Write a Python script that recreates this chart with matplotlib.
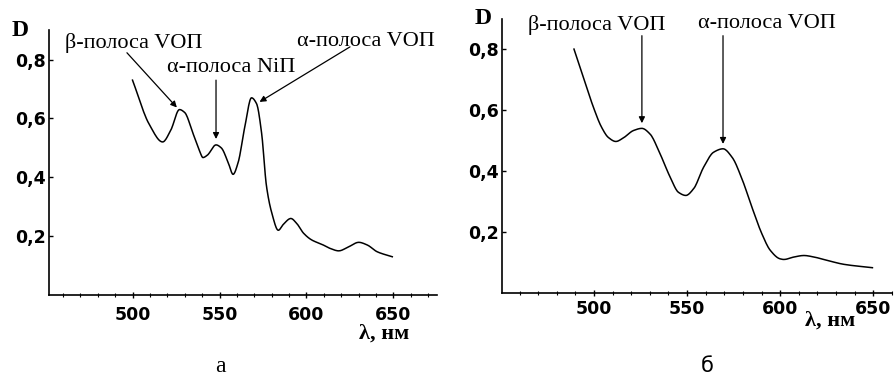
import matplotlib
matplotlib.use("Agg")
import matplotlib.pyplot as plt
import numpy as np
from matplotlib.ticker import MultipleLocator, FixedLocator

# Panel a data
wl_a = [500, 509.6, 517.3, 522, 527, 530, 534.7, 538.5, 540.5, 543, 548, 551, 555,
        557.8, 560.7, 564.5, 568.4, 571.3, 574.2, 577, 580, 583.8, 586.7, 591, 594.4,
        598.3, 603, 608.9, 613.7, 618.5, 624.3, 630, 634.9, 640.6, 649.3]
d_a = [0.73, 0.58, 0.52, 0.56, 0.63, 0.62, 0.55, 0.49, 0.467, 0.475, 0.51, 0.50, 0.45,
       0.41, 0.45, 0.57, 0.67, 0.65, 0.55, 0.37, 0.28, 0.22, 0.24, 0.26, 0.243,
       0.21, 0.187, 0.172, 0.158, 0.15, 0.164, 0.179, 0.17, 0.147, 0.13]

# Panel б data
wl_b = [489.2, 494.3, 499.6, 504, 507.7, 511.7, 515.8, 521.2, 525.7, 530, 535.5, 540.9,
        545.4, 549.3, 553.5, 558.9, 564.3, 569.3, 574.2, 579.5, 584.8, 590.2, 594.7,
        600, 602, 607.4, 612.8, 618.2, 625.3, 634.3, 649.6]
d_b = [0.80, 0.707, 0.61, 0.544, 0.51, 0.497, 0.509, 0.533, 0.54, 0.522, 0.456, 0.38,
       0.33, 0.32, 0.342, 0.413, 0.462, 0.473, 0.445, 0.374, 0.282, 0.194, 0.14,
       0.112, 0.11, 0.118, 0.123, 0.118, 0.107, 0.094, 0.083]

x_ticks = [500, 550, 600, 650]
y_ticks = [0.2, 0.4, 0.6, 0.8]
y_ticklabels = ["0,2", "0,4", "0,6", "0,8"]

ann_a = ["β-полоса VOП", "α-полоса NiП", "α-полоса VOП"]
ann_b = ["β-полоса VOП", "α-полоса VOП"]


def pchip(x, y, per=12):
    """Monotone (Fritsch-Carlson) cubic through the read points."""
    x = np.asarray(x, float)
    y = np.asarray(y, float)
    h = np.diff(x)
    delta = np.diff(y) / h
    n = len(x)
    m = np.zeros(n)
    for k in range(1, n - 1):
        if delta[k - 1] * delta[k] > 0:
            w1 = 2 * h[k] + h[k - 1]
            w2 = h[k] + 2 * h[k - 1]
            m[k] = (w1 + w2) / (w1 / delta[k - 1] + w2 / delta[k])
        else:
            m[k] = 0.0
    m[0] = delta[0]
    m[-1] = delta[-1]
    xs, ys = [], []
    for k in range(n - 1):
        t = np.linspace(0, 1, per, endpoint=False)
        h00 = 2 * t ** 3 - 3 * t ** 2 + 1
        h10 = t ** 3 - 2 * t ** 2 + t
        h01 = -2 * t ** 3 + 3 * t ** 2
        h11 = t ** 3 - t ** 2
        xs.extend(x[k] + t * h[k])
        ys.extend(h00 * y[k] + h10 * h[k] * m[k] + h01 * y[k + 1] + h11 * h[k] * m[k + 1])
    xs.append(x[-1]); ys.append(y[-1])
    return np.array(xs), np.array(ys)


fig = plt.figure(figsize=(8.94, 3.79), dpi=100)
serif = "Liberation Serif"
tickfont = dict(family="DejaVu Sans", weight="bold", size=12.5)


def style(ax, xlim, xpad):
    for s in ("top", "right"):
        ax.spines[s].set_visible(False)
    ax.spines["left"].set_linewidth(1.2)
    ax.spines["bottom"].set_linewidth(1.2)
    ax.set_xlim(*xlim)
    ax.set_ylim(0, 0.9)
    ax.xaxis.set_major_locator(FixedLocator(x_ticks))
    ax.xaxis.set_minor_locator(MultipleLocator(10))
    ax.set_yticks(y_ticks)
    ax.set_yticklabels(y_ticklabels)
    ax.tick_params(axis="y", direction="in", length=3, pad=2, width=1)
    ax.tick_params(axis="x", which="major", direction="inout", length=4, pad=xpad, width=1)
    ax.tick_params(axis="x", which="minor", direction="inout", length=3, width=0.8)
    for lab in ax.get_xticklabels() + ax.get_yticklabels():
        lab.set_fontfamily(tickfont["family"])
        lab.set_fontweight(tickfont["weight"])
        lab.set_fontsize(tickfont["size"])


arrow = dict(arrowstyle="-|>", color="black", lw=0.9, mutation_scale=9, shrinkA=0, shrinkB=0)
tfont = dict(family=serif, size=16, color="black")

# Panel a
ax1 = fig.add_axes([0.0548, 0.2216, 0.434, 0.699])
style(ax1, (452, 675), 6)
xs, ys = pchip(wl_a, d_a)
ax1.plot(xs, ys, color="black", lw=1.1)
ax1.annotate("", xy=(525.5, 0.637), xytext=(496.8, 0.823), arrowprops=arrow)
ax1.annotate("", xy=(548, 0.53), xytext=(548, 0.73), arrowprops=arrow)
ax1.annotate("", xy=(573, 0.656), xytext=(625, 0.843), arrowprops=arrow)
ax1.text(461, 0.857, ann_a[0], ha="left", va="center", **tfont)
ax1.text(520, 0.772, ann_a[1], ha="left", va="center", **tfont)
ax1.text(594.5, 0.86, ann_a[2], ha="left", va="center", **tfont)

# Panel б
ax2 = fig.add_axes([0.5615, 0.2269, 0.436, 0.724])
style(ax2, (450.5, 660), 3)
xs, ys = pchip(wl_b, d_b)
ax2.plot(xs, ys, color="black", lw=1.1)
ax2.annotate("", xy=(525.7, 0.557), xytext=(525.7, 0.844), arrowprops=arrow)
ax2.annotate("", xy=(569.3, 0.489), xytext=(569.3, 0.844), arrowprops=arrow)
ax2.text(464.5, 0.879, ann_b[0], ha="left", va="center", **tfont)
ax2.text(555.8, 0.885, ann_b[1], ha="left", va="center", **tfont)

# Axis labels
fig.text(20 / 894, 1 - 30 / 379, "D", family=serif, weight="bold", size=17, ha="center", va="center")
fig.text(483 / 894, 1 - 18 / 379, "D", family=serif, weight="bold", size=17, ha="center", va="center")
fig.text(384 / 894, 1 - 334 / 379, "λ, нм", family=serif, weight="bold", size=16, ha="center", va="center")
fig.text(830 / 894, 1 - 321 / 379, "λ, нм", family=serif, weight="bold", size=16, ha="center", va="center")
fig.text(220 / 894, 1 - 366 / 379, "а", family=serif, size=17, ha="center", va="center")
fig.text(707 / 894, 1 - 366 / 379, "б", family="DejaVu Sans", size=15, ha="center", va="center")

fig.savefig("out.png", dpi=100)
